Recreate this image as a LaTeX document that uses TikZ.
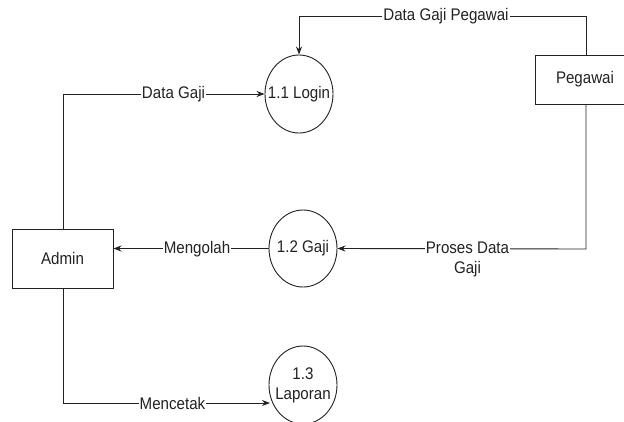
\documentclass[tikz,border=0pt]{standalone}
\usepackage{fontspec}
\setmainfont{Liberation Sans}[FakeStretch=0.9]
\usetikzlibrary{shapes.geometric,arrows.meta}
\definecolor{ink}{HTML}{222222}
\begin{document}
\begin{tikzpicture}[x=1pt,y=-1pt,
  font=\fontsize{16.8}{20}\selectfont, text=ink,
  ent/.style={draw=ink, line width=1pt, rectangle, inner sep=0pt},
  proc/.style={draw=ink, ellipse, line width=0.9pt, inner sep=0pt, minimum width=68pt, minimum height=78pt},
  lbl/.style={fill=white, inner xsep=1pt, inner ysep=1pt, align=center},
  flow/.style={draw=ink, line width=0.9pt, -{Stealth[length=8pt,width=6pt]}}]
\useasboundingbox (0,0) rectangle (624,421);
\clip (0,0) rectangle (624,421);
\fill[white] (0,0) rectangle (624,421);

\node[ent, minimum width=100pt, minimum height=49pt] (peg) at (585,79.5) {Pegawai};
\node[ent, minimum width=101pt, minimum height=59pt] (adm) at (62.5,258.5) {Admin};
\node[proc, label={center:1.1 Login}] (login) at (299,94) {};
\node[proc, minimum height=77pt, label={center:1.2 Gaji}] (gaji) at (303,248.5) {};
\node[proc, label={[align=center]center:1.3\\Laporan}] (lap) at (303,385) {};

\coordinate (pt) at (586,16);
\coordinate (pb) at (586,249);
\coordinate (ad) at (63,94);
\coordinate (am) at (63,403);
\coordinate (lapin) at (270,403);

\draw[flow] (peg.north -| pt) -- (pt) -| (login.north);
\draw[flow] (adm.north -| ad) -- (ad) -- (login.west);
\draw[flow] (gaji.west) -- (gaji.west -| adm.east);
\draw[flow] (peg.south -| pb) -- (pb) -- (gaji.east);
\draw[flow] (adm.south -| am) -- (am) -- (lapin);

\node[lbl] (l1) at (446,16) {Data Gaji Pegawai};
\node[lbl] (l2) at (173.5,94) {Data Gaji};
\node[lbl] (l3) at (197,249) {Mengolah};
\node[lbl] (l4) at (467.5,259) {Proses Data\\Gaji};
\node[lbl] (l5) at (172.5,403) {Mencetak};
\end{tikzpicture}
\end{document}
